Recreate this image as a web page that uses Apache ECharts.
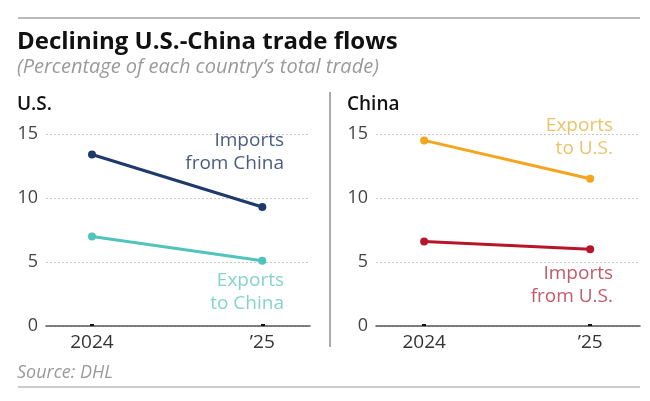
<html>
<head>
<meta charset="utf-8">
<script src="https://cdn.jsdelivr.net/npm/echarts@6/dist/echarts.min.js"></script>
</head>
<body>
<style>
  html, body, #main { width: 100%; height: 100%; margin: 0; background: #fff; }
</style>
<div id="main"></div>
<script>
var years = ['2024', '\u201925'];
var usImportsFromChina = [13.4, 9.3];
var usExportsToChina = [7.0, 5.1];
var chinaExportsToUS = [14.5, 11.5];
var chinaImportsFromUS = [6.6, 6.0];
var yTicks = [0, 5, 10, 15];

var chart = echarts.init(document.getElementById('main'));
var font = '"Open Sans", "Noto Sans", sans-serif';

function pts(vals) {
  return vals.map(function (v, i) { return [i, v]; });
}

function xAxisFor(gridIndex, min, max) {
  return {
    type: 'value', gridIndex: gridIndex, min: min, max: max,
    splitLine: { show: false },
    axisLine: { show: true, onZero: false, lineStyle: { color: '#555', width: 1.5 } },
    axisTick: { show: true, customValues: [0, 1], length: 2, inside: true, lineStyle: { color: '#111', width: 4 } },
    axisLabel: {
      customValues: [0, 1], margin: 7, color: '#333', fontSize: 19, fontFamily: font,
      formatter: function (v) { return years[Math.round(v)]; }
    }
  };
}

function yAxisFor(gridIndex) {
  return {
    type: 'value', gridIndex: gridIndex, min: yTicks[0], max: yTicks[yTicks.length - 1], interval: 5,
    axisLine: { show: false }, axisTick: { show: false },
    axisLabel: { margin: 8, color: '#444', fontSize: 18, fontFamily: font },
    splitLine: { lineStyle: { color: '#c8c8c8', type: [2, 2], width: 1 } }
  };
}

function line(name, vals, color, xi) {
  return {
    name: name, type: 'line', xAxisIndex: xi, yAxisIndex: xi, data: pts(vals),
    symbol: 'circle', symbolSize: 8, lineStyle: { color: color, width: 3 },
    itemStyle: { color: color }, silent: true, z: 5
  };
}

function txt(x, y, text, color, f, align) {
  return {
    type: 'text', x: x, y: y,
    style: { text: text, fill: color, font: f, align: align || 'left', verticalAlign: 'middle', lineHeight: 23 }
  };
}

function note(x, y, text, color) {
  return txt(x, y, text, color, '19px ' + font, 'right');
}

var option = {
  animation: false,
  grid: [
    { left: 46, right: 340, top: 134, bottom: 75 },
    { left: 376, right: 10, top: 134, bottom: 75 }
  ],
  xAxis: [xAxisFor(0, -0.27, 1.28), xAxisFor(1, -0.29, 1.30)],
  yAxis: [yAxisFor(0), yAxisFor(1)],
  series: [
    line('Imports from China', usImportsFromChina, '#1d3a6b', 0),
    line('Exports to China', usExportsToChina, '#4fc4ba', 0),
    line('Exports to U.S.', chinaExportsToUS, '#f5a51c', 1),
    line('Imports from U.S.', chinaImportsFromUS, '#b8142a', 1)
  ],
  graphic: [
    { type: 'line', shape: { x1: 18, y1: 18, x2: 640, y2: 18 }, style: { stroke: '#bbb', lineWidth: 2 } },
    { type: 'line', shape: { x1: 18, y1: 387, x2: 640, y2: 387 }, style: { stroke: '#ccc', lineWidth: 2 } },
    { type: 'line', shape: { x1: 330, y1: 92, x2: 330, y2: 347 }, style: { stroke: '#aaa', lineWidth: 2 } },
    txt(17, 42, 'Declining U.S.-China trade flows', '#111', 'bold 24px ' + font),
    txt(17, 67, '(Percentage of each country\u2019s total trade)', '#9a9a9a', 'italic 20px ' + font),
    txt(17, 105, 'U.S.', '#111', '600 19px ' + font),
    txt(347, 105, 'China', '#111', '600 19px ' + font),
    txt(17, 373, 'Source: DHL', '#9a9a9a', 'italic 18px ' + font),
    note(284, 152, 'Imports\nfrom China', '#4b5d82'),
    note(284, 292, 'Exports\nto China', '#86d3cc'),
    note(613, 137, 'Exports\nto U.S.', '#ecc468'),
    note(613, 285, 'Imports\nfrom U.S.', '#c45a6a')
  ]
};

chart.setOption(option);
window.onresize = chart.resize;
</script>
</body>
</html>
